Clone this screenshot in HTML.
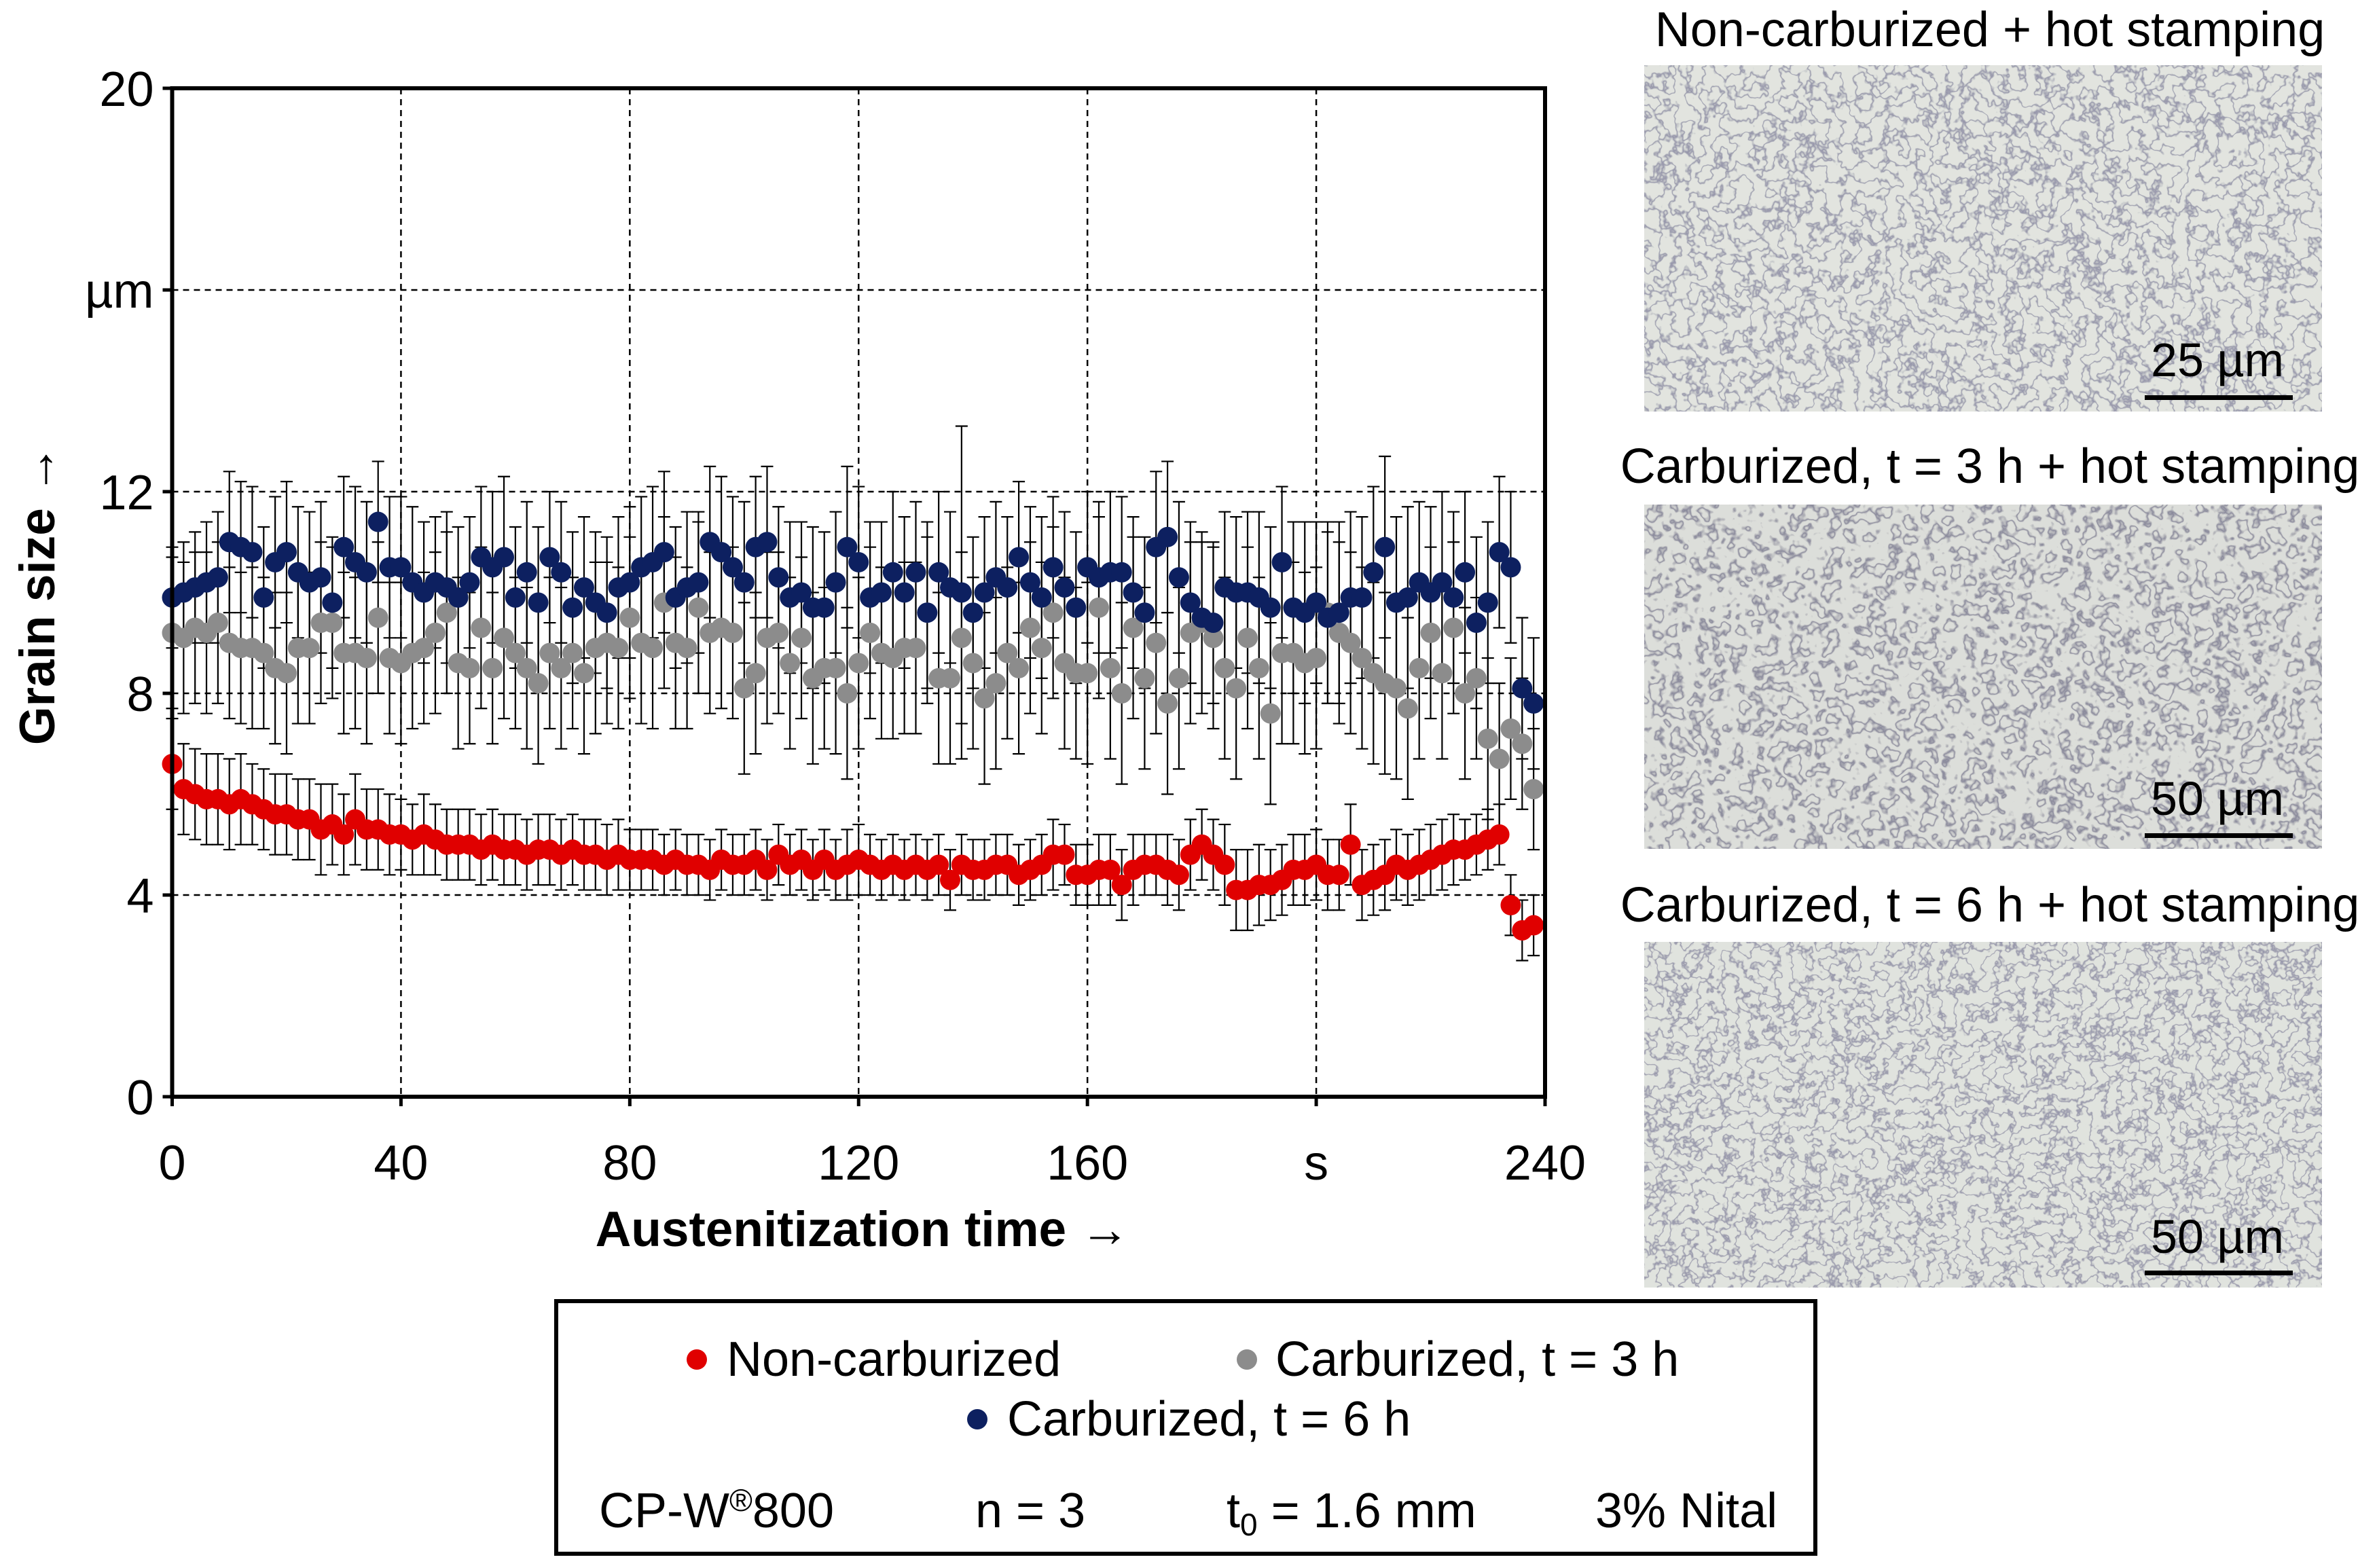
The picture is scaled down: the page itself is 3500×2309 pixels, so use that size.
<!DOCTYPE html>
<html><head><meta charset="utf-8"><style>
body{margin:0;background:#fff;width:3500px;height:2309px;overflow:hidden}
svg{display:block;font-family:"Liberation Sans",sans-serif}
</style></head><body>
<svg id="chart" width="3500" height="2309" viewBox="0 0 3500 2309" xmlns="http://www.w3.org/2000/svg">
<defs>
<filter id="mic1" x="0" y="0" width="100%" height="100%"><feTurbulence type="fractalNoise" baseFrequency="0.045" numOctaves="3" seed="3"/><feColorMatrix type="matrix" values="1 0 0 0 0 1 0 0 0 0 1 0 0 0 0 0 0 0 0 1"/><feComponentTransfer><feFuncR type="table" tableValues="0.76 0.76 0.76 0.76 0.76 0.76 0.76 0.3 0.76 0.76 0.76 0.76 0.76 0.76 0.76"/><feFuncG type="table" tableValues="0.78 0.78 0.78 0.78 0.78 0.78 0.78 0.3 0.78 0.78 0.78 0.78 0.78 0.78 0.78"/><feFuncB type="table" tableValues="0.74 0.74 0.74 0.74 0.74 0.74 0.74 0.4 0.74 0.74 0.74 0.74 0.74 0.74 0.74"/></feComponentTransfer></filter>
<filter id="mic2" x="0" y="0" width="100%" height="100%"><feTurbulence type="fractalNoise" baseFrequency="0.035" numOctaves="3" seed="7"/><feColorMatrix type="matrix" values="1 0 0 0 0 1 0 0 0 0 1 0 0 0 0 0 0 0 0 1"/><feComponentTransfer><feFuncR type="table" tableValues="0.72 0.72 0.72 0.72 0.72 0.25 0.72 0.72 0.72 0.25 0.72 0.72 0.72 0.72 0.72"/><feFuncG type="table" tableValues="0.73 0.73 0.73 0.73 0.73 0.25 0.73 0.73 0.73 0.25 0.73 0.73 0.73 0.73 0.73"/><feFuncB type="table" tableValues="0.7 0.7 0.7 0.7 0.7 0.33 0.7 0.7 0.7 0.33 0.7 0.7 0.7 0.7 0.7"/></feComponentTransfer></filter>
<filter id="mic3" x="0" y="0" width="100%" height="100%"><feTurbulence type="fractalNoise" baseFrequency="0.05" numOctaves="3" seed="11"/><feColorMatrix type="matrix" values="1 0 0 0 0 1 0 0 0 0 1 0 0 0 0 0 0 0 0 1"/><feComponentTransfer><feFuncR type="table" tableValues="0.75 0.75 0.75 0.75 0.75 0.75 0.75 0.3 0.75 0.75 0.75 0.75 0.75 0.75 0.75"/><feFuncG type="table" tableValues="0.77 0.77 0.77 0.77 0.77 0.77 0.77 0.3 0.77 0.77 0.77 0.77 0.77 0.77 0.77"/><feFuncB type="table" tableValues="0.73 0.73 0.73 0.73 0.73 0.73 0.73 0.4 0.73 0.73 0.73 0.73 0.73 0.73 0.73"/></feComponentTransfer></filter>
</defs>
<g id="grid"></g>
<g id="errs"></g>
<g id="dots"></g>
<rect x="253.5" y="130" width="2021.5" height="1485" fill="none" stroke="#000" stroke-width="6"/>
<g id="ticks" font-size="72" fill="#000"></g>
<text x="1270" y="1835" font-size="73" font-weight="bold" text-anchor="middle">Austenitization time →</text>
<text transform="translate(80,876) rotate(-90)" font-size="73" font-weight="bold" text-anchor="middle">Grain size →</text>

<g>
<text x="2930" y="68" font-size="72" text-anchor="middle">Non-carburized + hot stamping</text>
<rect x="2421" y="96" width="998" height="510" filter="url(#mic1)"/>
<text x="3265" y="554" font-size="70" text-anchor="middle">25 µm</text>
<rect x="3158" y="582" width="218" height="7" fill="#000"/>
</g>
<g>
<text x="2930" y="711" font-size="72" text-anchor="middle">Carburized, t = 3 h + hot stamping</text>
<rect x="2421" y="743" width="998" height="507" filter="url(#mic2)"/>
<text x="3265" y="1200" font-size="70" text-anchor="middle">50 µm</text>
<rect x="3158" y="1227" width="218" height="7" fill="#000"/>
</g>
<g>
<text x="2930" y="1357" font-size="72" text-anchor="middle">Carburized, t = 6 h + hot stamping</text>
<rect x="2421" y="1387" width="998" height="509" filter="url(#mic3)"/>
<text x="3265" y="1845" font-size="70" text-anchor="middle">50 µm</text>
<rect x="3158" y="1871" width="218" height="7" fill="#000"/>
</g>

<g font-size="72">
<rect x="819" y="1916" width="1854" height="372" fill="#fff" stroke="#000" stroke-width="6"/>
<circle cx="1026" cy="2002" r="15" fill="#e00000"/>
<text x="1070" y="2026">Non-carburized</text>
<circle cx="1836" cy="2002" r="15" fill="#8c8c8c"/>
<text x="1878" y="2026">Carburized, t = 3 h</text>
<circle cx="1439" cy="2090" r="15" fill="#0d2060"/>
<text x="1483" y="2114">Carburized, t = 6 h</text>
<text x="882" y="2249">CP-W<tspan font-size="46" dy="-24">®</tspan><tspan dy="24">800</tspan></text>
<text x="1436" y="2249">n = 3</text>
<text x="1806" y="2249">t<tspan font-size="46" dy="12">0</tspan><tspan dy="-12"> = 1.6 mm</tspan></text>
<text x="2349" y="2249">3% Nital</text>
</g>
</svg>
<script>
const times=[0,2,4,6,8,10,12,14,16,18,20,22,24,26,28,30,32,34,36,38,40,42,44,46,48,50,52,54,56,58,60,62,64,66,68,70,72,74,76,78,80,82,84,86,88,90,92,94,96,98,100,102,104,106,108,110,112,114,116,118,120,122,124,126,128,130,132,134,136,138,140,142,144,146,148,150,152,154,156,158,160,162,164,166,168,170,172,174,176,178,180,182,184,186,188,190,192,194,196,198,200,202,204,206,208,210,212,214,216,218,220,222,224,226,228,230,232,234,236,238];
const redVals=[6.6,6.1,6.0,5.9,5.9,5.8,5.9,5.8,5.7,5.6,5.6,5.5,5.5,5.3,5.4,5.2,5.5,5.3,5.3,5.2,5.2,5.1,5.2,5.1,5.0,5.0,5.0,4.9,5.0,4.9,4.9,4.8,4.9,4.9,4.8,4.9,4.8,4.8,4.7,4.8,4.7,4.7,4.7,4.6,4.7,4.6,4.6,4.5,4.7,4.6,4.6,4.7,4.5,4.8,4.6,4.7,4.5,4.7,4.5,4.6,4.7,4.6,4.5,4.6,4.5,4.6,4.5,4.6,4.3,4.6,4.5,4.5,4.6,4.6,4.4,4.5,4.6,4.8,4.8,4.4,4.4,4.5,4.5,4.2,4.5,4.6,4.6,4.5,4.4,4.8,5.0,4.8,4.6,4.1,4.1,4.2,4.2,4.3,4.5,4.5,4.6,4.4,4.4,5.0,4.2,4.3,4.4,4.6,4.5,4.6,4.7,4.8,4.9,4.9,5.0,5.1,5.2,3.8,3.3,3.4];
const redErr=[0.9,0.9,0.9,0.9,0.9,0.9,0.9,0.8,0.8,0.8,0.8,0.8,0.8,0.9,0.8,0.8,0.9,0.8,0.8,0.8,0.7,0.7,0.8,0.7,0.7,0.7,0.7,0.7,0.7,0.7,0.7,0.7,0.7,0.7,0.7,0.7,0.7,0.7,0.7,0.7,0.6,0.6,0.6,0.6,0.6,0.6,0.6,0.6,0.6,0.6,0.6,0.6,0.6,0.6,0.6,0.6,0.6,0.6,0.6,0.7,0.7,0.6,0.6,0.6,0.6,0.6,0.6,0.6,0.6,0.6,0.6,0.6,0.6,0.6,0.6,0.6,0.6,0.7,0.6,0.6,0.6,0.7,0.7,0.7,0.7,0.6,0.6,0.7,0.7,0.7,0.7,0.7,0.8,0.8,0.8,0.8,0.7,0.7,0.7,0.7,0.7,0.7,0.7,0.8,0.7,0.7,0.7,0.7,0.7,0.7,0.7,0.7,0.7,0.6,0.6,0.6,0.6,0.6,0.6,0.6];
const grayVals=[9.2,9.1,9.3,9.2,9.4,9.0,8.9,8.9,8.8,8.5,8.4,8.9,8.9,9.4,9.4,8.8,8.8,8.7,9.5,8.7,8.6,8.8,8.9,9.2,9.6,8.6,8.5,9.3,8.5,9.1,8.8,8.5,8.2,8.8,8.5,8.8,8.4,8.9,9.0,8.9,9.5,9.0,8.9,9.8,9.0,8.9,9.7,9.2,9.3,9.2,8.1,8.4,9.1,9.2,8.6,9.1,8.3,8.5,8.5,8.0,8.6,9.2,8.8,8.7,8.9,8.9,9.6,8.3,8.3,9.1,8.6,7.9,8.2,8.8,8.5,9.3,8.9,9.6,8.6,8.4,8.4,9.7,8.5,8.0,9.3,8.3,9.0,7.8,8.3,9.2,9.4,9.1,8.5,8.1,9.1,8.5,7.6,8.8,8.8,8.6,8.7,9.6,9.2,9.0,8.7,8.4,8.2,8.1,7.7,8.5,9.2,8.4,9.3,8.0,8.3,7.1,6.7,7.3,7.0,6.1];
const grayErr=[1.5,1.5,1.5,1.6,1.6,1.5,1.5,1.6,1.5,1.5,1.6,1.5,1.5,1.6,1.5,1.6,1.5,1.7,1.5,1.5,1.6,1.5,1.5,1.6,1.6,1.7,1.5,1.6,1.5,1.6,1.5,1.6,1.6,1.5,1.6,1.5,1.6,1.7,1.6,1.6,1.6,1.6,1.6,1.7,1.7,1.6,1.7,1.6,1.6,1.7,1.7,1.6,1.7,1.6,1.7,1.6,1.7,1.6,1.7,1.7,1.7,1.7,1.7,1.6,1.7,1.7,1.8,1.7,1.7,1.7,1.7,1.7,1.7,1.7,1.7,1.7,1.7,1.7,1.7,1.7,1.8,1.8,1.8,1.8,1.8,1.8,1.8,1.8,1.8,1.8,1.8,1.8,1.8,1.8,1.8,1.8,1.8,1.8,1.8,1.8,1.8,1.8,1.8,1.8,1.8,1.8,1.8,1.8,1.8,1.8,1.7,1.7,1.7,1.7,1.6,1.6,1.5,1.4,1.3,1.2];
const blueVals=[9.9,10.0,10.1,10.2,10.3,11.0,10.9,10.8,9.9,10.6,10.8,10.4,10.2,10.3,9.8,10.9,10.6,10.4,11.4,10.5,10.5,10.2,10.0,10.2,10.1,9.9,10.2,10.7,10.5,10.7,9.9,10.4,9.8,10.7,10.4,9.7,10.1,9.8,9.6,10.1,10.2,10.5,10.6,10.8,9.9,10.1,10.2,11.0,10.8,10.5,10.2,10.9,11.0,10.3,9.9,10.0,9.7,9.7,10.2,10.9,10.6,9.9,10.0,10.4,10.0,10.4,9.6,10.4,10.1,10.0,9.6,10.0,10.3,10.1,10.7,10.2,9.9,10.5,10.1,9.7,10.5,10.3,10.4,10.4,10.0,9.6,10.9,11.1,10.3,9.8,9.5,9.4,10.1,10.0,10.0,9.9,9.7,10.6,9.7,9.6,9.8,9.5,9.6,9.9,9.9,10.4,10.9,9.8,9.9,10.2,10.0,10.2,9.9,10.4,9.4,9.8,10.8,10.5,8.1,7.8];
const blueErr=[1.0,1.0,1.1,1.2,1.3,1.4,1.3,1.3,1.4,1.3,1.4,1.3,1.4,1.5,1.3,1.4,1.5,1.4,1.2,1.4,1.4,1.5,1.4,1.3,1.5,1.4,1.3,1.4,1.5,1.6,1.4,1.4,1.5,1.3,1.4,1.5,1.4,1.4,1.5,1.4,1.5,1.4,1.5,1.6,1.4,1.5,1.4,1.5,1.5,1.4,1.6,1.4,1.5,1.4,1.5,1.4,1.6,1.5,1.4,1.6,1.5,1.5,1.4,1.6,1.5,1.4,1.5,1.6,1.5,3.3,1.5,1.5,1.5,1.4,1.5,1.5,1.6,1.4,1.5,1.5,1.5,1.5,1.6,1.5,1.5,1.5,1.5,1.5,1.5,1.6,1.5,1.6,1.5,1.5,1.6,1.7,1.6,1.5,1.7,1.8,1.6,1.7,1.8,1.7,1.6,1.7,1.8,1.7,1.8,1.6,1.7,1.8,1.7,1.6,1.7,1.6,1.5,1.5,1.4,1.3];
const xTicks=[0,40,80,120,160,200,240];
const xTickLabels=["0","40","80","120","160","s","240"];
const yTicks=[0,4,8,12,16,20];
const yTickLabels=["0","4","8","12","µm","20"];

const NS="http://www.w3.org/2000/svg";
const L=253.5,R=2275,T=130,B=1615;
function sx(t){return L+t*(R-L)/240;}
function sy(v){return B-v*(B-T)/20;}
function mk(tag,attrs,parent){const e=document.createElementNS(NS,tag);for(const k in attrs)e.setAttribute(k,attrs[k]);parent.appendChild(e);return e;}
const grid=document.getElementById('grid'),errs=document.getElementById('errs'),dots=document.getElementById('dots'),ticks=document.getElementById('ticks');
xTicks.forEach((t,i)=>{
  if(t>0&&t<240){const g=mk('line',{x1:sx(t),x2:sx(t),y1:T,y2:B,stroke:'#000','stroke-width':2.5,'stroke-dasharray':'9 7'},grid);
  
  }
  const tk=mk('line',{x1:sx(t),x2:sx(t),y1:B,y2:B+14,stroke:'#000','stroke-width':5},ticks);
  
  
  const tx=mk('text',{x:sx(t),y:1737,'text-anchor':'middle'},ticks);tx.textContent=xTickLabels[i];
  
  
});
yTicks.forEach((v,i)=>{
  if(v>0&&v<20){const g=mk('line',{x1:L,x2:R,y1:sy(v),y2:sy(v),stroke:'#000','stroke-width':2.5,'stroke-dasharray':'9 7'},grid);
  
  }
  const tk=mk('line',{x1:L-14,x2:L,y1:sy(v),y2:sy(v),stroke:'#000','stroke-width':5},ticks);
  
  
  const tx=mk('text',{x:L-27,y:sy(v)+26,'text-anchor':'end'},ticks);tx.textContent=yTickLabels[i];
  
  
});
function drawErr(vals,err,name){
  vals.forEach((v,i)=>{const x=sx(times[i]),y1=sy(v+err[i]),y2=sy(v-err[i]);
    const p=mk('path',{d:`M${x},${y1}V${y2}M${x-9},${y1}H${x+9}M${x-9},${y2}H${x+9}`,stroke:'#000','stroke-width':2.2,fill:'none'},errs);
    
    
  });
}
function drawDots(vals,col,name){
  vals.forEach((v,i)=>{const c=mk('circle',{cx:sx(times[i]),cy:sy(v),r:15,fill:col},dots);
    
    
  });
}
drawErr(grayVals,grayErr,'error-bar-carburized-3h');
drawErr(blueVals,blueErr,'error-bar-carburized-6h');
drawErr(redVals,redErr,'error-bar-non-carburized');
drawDots(grayVals,'#8c8c8c','point-carburized-3h');
drawDots(blueVals,'#0d2060','point-carburized-6h');
drawDots(redVals,'#e00000','point-non-carburized');
</script>
</body></html>
